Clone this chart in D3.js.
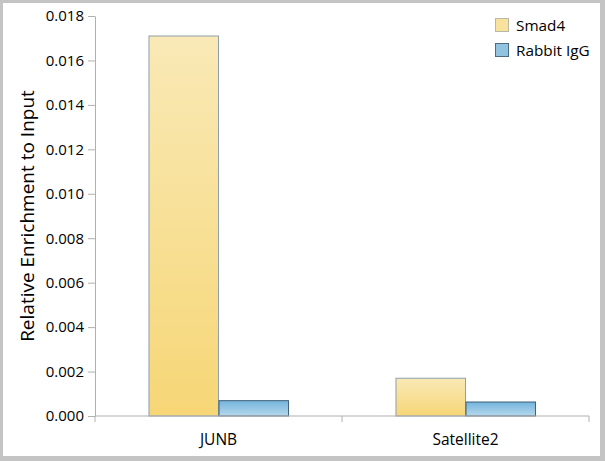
<!DOCTYPE html>
<html><head><meta charset="utf-8">
<script src="https://cdn.jsdelivr.net/npm/d3@7"></script>
<style>html,body{margin:0;padding:0;background:#fff;}svg{display:block;}</style>
</head><body>
<svg id="chart" width="605" height="461"></svg>
<script>
const categories = ["JUNB", "Satellite2"];
const seriesNames = ["Smad4", "Rabbit IgG"];
const smad4 = [0.0171, 0.0017];
const rabbitIgG = [0.00069, 0.00063];
const yTicks = [0, 0.002, 0.004, 0.006, 0.008, 0.010, 0.012, 0.014, 0.016, 0.018];

(function(){
const svg = d3.select("#chart");
const W = 605, H = 461;
const font = "'Open Sans', sans-serif";

// frame
svg.append("rect").attr("x",0).attr("y",0).attr("width",W).attr("height",H).attr("fill","#c4c4c4");
svg.append("rect").attr("x",3).attr("y",3).attr("width",597).attr("height",453).attr("fill","#fff");

const defs = svg.append("defs");
const g1 = defs.append("linearGradient").attr("id","gY").attr("x1",0).attr("y1",0).attr("x2",0).attr("y2",1);
g1.append("stop").attr("offset","0%").attr("stop-color","#f9e9b6");
g1.append("stop").attr("offset","100%").attr("stop-color","#f6d676");
const g2 = defs.append("linearGradient").attr("id","gB").attr("x1",0).attr("y1",0).attr("x2",0).attr("y2",1);
g2.append("stop").attr("offset","0%").attr("stop-color","#74b4dc");
g2.append("stop").attr("offset","100%").attr("stop-color","#b6d8ec");

const mLeft = 95, mRight = 589, mTop = 16, mBottom = 416;
const x0 = d3.scaleBand().domain(categories).range([mLeft, mRight]).paddingInner(0.433).paddingOuter(0.2165);
const x1 = d3.scaleBand().domain(seriesNames).range([0, x0.bandwidth()]);
const y = d3.scaleLinear().domain([0, 0.018]).range([mBottom, mTop]);

const fills = {"Smad4":"url(#gY)", "Rabbit IgG":"url(#gB)"};
const strokes = {"Smad4":"#8f9fae", "Rabbit IgG":"#3f5f78"};
const legFills = {"Smad4":"#f8e29c", "Rabbit IgG":"#92c4e2"};
const strokesLeg = {"Smad4":"#b8b8a8", "Rabbit IgG":"#4d6b82"};

const data = categories.map((c,i)=>({cat:c, vals:[{s:"Smad4", v:smad4[i]},{s:"Rabbit IgG", v:rabbitIgG[i]}]}));

// y axis
const yAxis = d3.axisLeft(y).tickValues(yTicks).tickFormat(d3.format(".3f")).tickSize(7).tickSizeOuter(0);
const ya = svg.append("g").attr("transform",`translate(${mLeft},0)`).call(yAxis);
ya.select(".domain").attr("stroke","#b0b0b0");
ya.selectAll(".tick line").attr("stroke","#b0b0b0");
ya.selectAll(".tick text").attr("font-family",font).attr("font-size","15px").attr("fill","#000").attr("x",-11);

// bars
const grp = svg.append("g").selectAll("g").data(data).join("g")
  .attr("transform", d=>`translate(${x0(d.cat)},0)`);
grp.selectAll("rect").data(d=>d.vals).join("rect")
  .attr("x", d=>x1(d.s)+0.5)
  .attr("y", d=>y(d.v))
  .attr("width", x1.bandwidth()-0.5)
  .attr("height", d=>mBottom - y(d.v))
  .attr("fill", d=>fills[d.s])
  .attr("stroke", d=>strokes[d.s])
  .attr("stroke-width", 1);

// x axis
const xAxisLine = svg.append("g").attr("transform",`translate(0,${mBottom})`);
xAxisLine.append("line").attr("x1",mLeft).attr("x2",mRight).attr("y1",0).attr("y2",0).attr("stroke","#b0b0b0").attr("stroke-width",1.2);
const bounds = [mLeft, x0(categories[1]) - x0.step()*x0.paddingInner()/2, mRight];
xAxisLine.selectAll("line.tk").data(bounds).join("line").attr("class","tk")
  .attr("x1",d=>d).attr("x2",d=>d).attr("y1",0).attr("y2",6).attr("stroke","#b0b0b0");
xAxisLine.selectAll("text").data(categories).join("text")
  .attr("x", d=>x0(d)+x0.bandwidth()/2).attr("y", 29)
  .attr("text-anchor","middle").attr("font-family",font).attr("font-size","15.5px").attr("fill","#000")
  .text(d=>d);

// y label
svg.append("text").attr("transform","translate(34,216) rotate(-90)")
  .attr("text-anchor","middle").attr("font-family",font).attr("font-size","19px").attr("fill","#000")
  .text("Relative Enrichment to Input");

// legend
const leg = svg.append("g").attr("transform","translate(495,18)");
const li = leg.selectAll("g").data(seriesNames).join("g").attr("transform",(d,i)=>`translate(0,${i*25})`);
li.append("rect").attr("x",0.5).attr("y",0.5).attr("width",13).attr("height",13)
  .attr("fill",d=>legFills[d]).attr("stroke",d=>strokesLeg[d]);
li.append("text").attr("x",21).attr("y",12.5).attr("font-family",font).attr("font-size","15.3px").attr("fill","#000").text(d=>d);
})();
</script>
</body></html>
